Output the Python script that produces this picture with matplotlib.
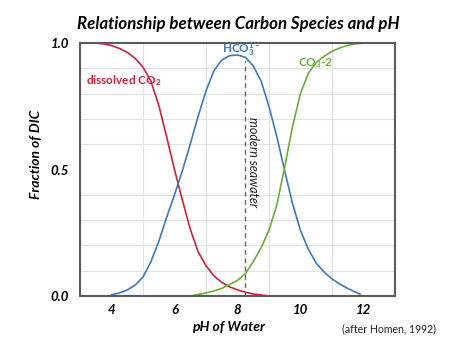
"""
Fraction of dissolved inorganic carbon species vs pH (after Homen, 1992).
"""
import matplotlib
matplotlib.use("Agg")
import matplotlib.pyplot as plt

# values
ph_co2 = [3.5, 3.75, 4.0, 4.25, 4.5, 4.75, 5.0, 5.25, 5.5, 5.75, 6.0, 6.25,
          6.5, 6.75, 7.0, 7.25, 7.5, 7.75, 8.0, 8.25, 8.5, 8.75, 9.0]
frac_co2 = [1.0, 0.997, 0.99, 0.979, 0.963, 0.94, 0.905, 0.85, 0.755, 0.63,
            0.50, 0.38, 0.265, 0.175, 0.12, 0.08, 0.054, 0.036, 0.024, 0.015,
            0.008, 0.004, 0.0]

ph_hco3 = [4.0, 4.25, 4.5, 4.75, 5.0, 5.25, 5.5, 5.75, 6.0, 6.25, 6.5, 6.75,
           7.0, 7.25, 7.5, 7.75, 8.0, 8.25, 8.5, 8.75, 9.0, 9.25, 9.5, 9.75,
           10.0, 10.25, 10.5, 10.75, 11.0, 11.25, 11.5, 11.75, 11.9]
frac_hco3 = [0.005, 0.012, 0.024, 0.043, 0.075, 0.135, 0.215, 0.31, 0.40,
             0.495, 0.60, 0.71, 0.81, 0.89, 0.933, 0.95, 0.953, 0.944, 0.91,
             0.85, 0.75, 0.63, 0.495, 0.365, 0.26, 0.185, 0.13, 0.095, 0.068,
             0.047, 0.03, 0.015, 0.007]

ph_co3 = [6.5, 6.75, 7.0, 7.25, 7.5, 7.75, 8.0, 8.25, 8.5, 8.75, 9.0, 9.25,
          9.5, 9.75, 10.0, 10.25, 10.5, 10.75, 11.0, 11.25, 11.5, 11.75,
          12.0, 12.3]
frac_co3 = [0.0, 0.006, 0.012, 0.02, 0.03, 0.045, 0.062, 0.088, 0.135, 0.19,
            0.26, 0.36, 0.51, 0.67, 0.80, 0.88, 0.923, 0.948, 0.967, 0.981,
            0.991, 0.997, 1.0, 1.0]

seawater_ph = 8.25
x_ticks = [4, 6, 8, 10, 12]
y_ticks = [0.0, 0.5, 1.0]

RED = "#c9243f"
BLUE = "#3f7ab8"
GREEN = "#6cad3c"

plt.rcParams["font.family"] = ["Lato", "DejaVu Sans"]
plt.rcParams["mathtext.fontset"] = "custom"
plt.rcParams["mathtext.rm"] = "Lato:bold"
plt.rcParams["mathtext.bf"] = "Lato:bold"
plt.rcParams["mathtext.it"] = "Lato:bold:italic"

fig = plt.figure(figsize=(4.56, 3.42), dpi=100)
ax = fig.add_axes([0.1754, 0.1345, 0.6906, 0.7395])

ax.plot(ph_co2, frac_co2, color=RED, lw=1.2)
ax.plot(ph_hco3, frac_hco3, color=BLUE, lw=1.2)
ax.plot(ph_co3, frac_co3, color=GREEN, lw=1.2)
ax.plot([seawater_ph, seawater_ph], [0, 0.93], color="#666666", lw=1,
        dashes=(3.5, 2.5))

ax.set_xlim(3, 13)
ax.set_ylim(0, 1)
ax.set_xticks(range(3, 14), minor=True)
ax.set_yticks([i / 10 for i in range(11)], minor=True)
ax.grid(True, which="minor", color="#e2e2e2", lw=0.8)
ax.set_axisbelow(True)
ax.set_xticks(x_ticks)
ax.set_xticklabels([str(t) for t in x_ticks])
ax.set_yticks(y_ticks)
ax.set_yticklabels(["%.1f" % t for t in y_ticks])
ax.tick_params(which="both", length=0)
ax.tick_params(axis="x", pad=6)
ax.tick_params(axis="y", pad=8)
for lab in ax.get_xticklabels() + ax.get_yticklabels():
    lab.set_fontsize(9.5)
    lab.set_fontweight("bold")
    lab.set_fontstyle("italic")
for sp in ax.spines.values():
    sp.set_color("#5a5a5a")
    sp.set_linewidth(1.5)

ax.set_xlabel("pH of Water", fontsize=10, fontweight="bold", style="italic")
ax.xaxis.set_label_coords(0.47, -0.1)
ax.set_ylabel("Fraction of DIC", fontsize=10, fontweight="bold",
              style="italic")
ax.yaxis.set_label_coords(-0.12, 0.56)

fig.text(0.522, 0.93, "Relationship between Carbon Species and pH",
         ha="center", va="center", fontsize=12.2, fontweight="bold",
         style="italic")

ax.text(3.18, 0.85, r"dissolved CO$_2$", color=RED, fontsize=8.5,
        fontweight="bold", va="center")
ax.text(7.5, 0.975, r"HCO$_3^{1-}$", color=BLUE, fontsize=8.5,
        fontweight="bold", va="center")
ax.text(9.93, 0.92, r"CO$_3$-2", color=GREEN, fontsize=8.5,
        fontweight="bold", va="center")
ax.text(8.5, 0.53, "modern seawater", rotation=270, style="italic",
        fontsize=9, ha="center", va="center", color="#222222")

fig.text(0.75, 0.04, "(after Homen, 1992)", fontsize=7.6, ha="left",
         va="center", color="#222222")

fig.savefig("out.png", dpi=100)
plt.close(fig)
